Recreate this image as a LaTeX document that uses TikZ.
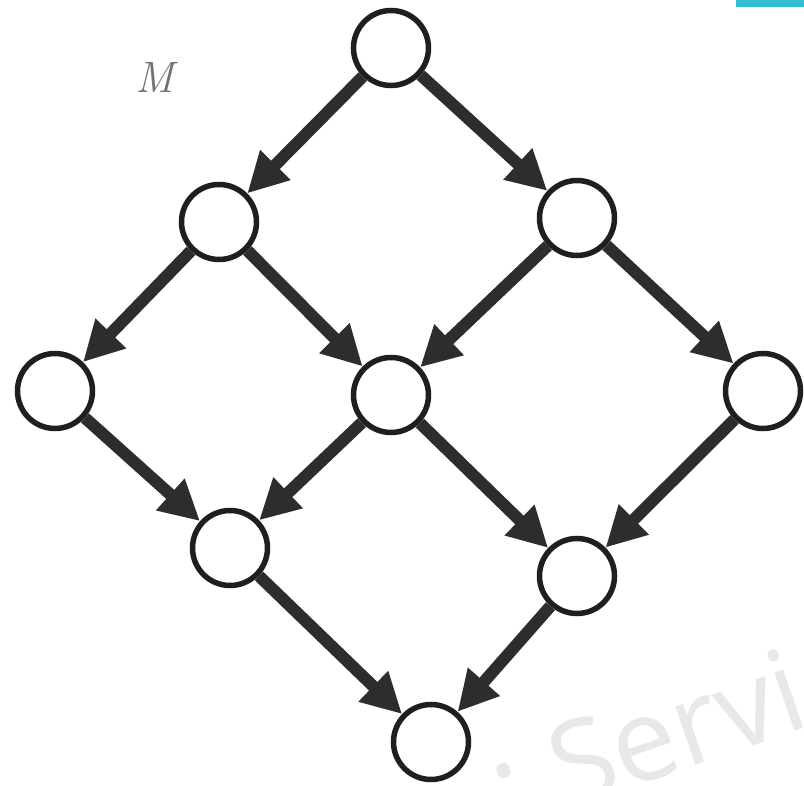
\documentclass[tikz,border=0pt]{standalone}
\usepackage{fontspec}
\newfontfamily\wmfont{Open Sans}
\usetikzlibrary{arrows.meta}
\definecolor{edgecol}{HTML}{2D2D2D}
\definecolor{teal}{HTML}{2FBFD0}
\definecolor{wmgray}{HTML}{E8E8E8}
\tikzset{
  vtx/.style={circle, draw=black!88, line width=5.5pt, fill=white, minimum size=75pt, inner sep=0pt},
  edge/.style={draw=edgecol, line width=12pt, -{Triangle[length=40pt,width=40pt]}},
  wm/.style={rotate=19, text=wmgray, font=\wmfont\fontsize{115}{115}\selectfont, inner sep=0pt},
}
\begin{document}
\begin{tikzpicture}[x=1pt,y=-1pt]
\useasboundingbox (0,0) rectangle (804,786);
\begin{scope}
\clip (0,0) rectangle (804,786);
\fill[teal] (736,0) rectangle (804,7);
\node[wm, anchor=base west] (wm) at (566,810) {Servic};
\node[wm, anchor=center] (wmdot) at (504,771) {.};
\end{scope}
\node[text=black!55, font=\itshape\fontsize{44}{44}\selectfont] (m) at (155,77) {M};
\node[vtx] (t) at (391,48) {};
\node[vtx] (l1) at (219,222) {};
\node[vtx] (r1) at (577,218) {};
\node[vtx] (ll) at (55,391) {};
\node[vtx] (c) at (391,395) {};
\node[vtx] (rr) at (763,391) {};
\node[vtx] (l2) at (230,548) {};
\node[vtx] (r2) at (577,576) {};
\node[vtx] (b) at (431,742) {};
\draw[edge] (t) -- (l1);
\draw[edge] (t) -- (r1);
\draw[edge] (l1) -- (ll);
\draw[edge] (l1) -- (c);
\draw[edge] (r1) -- (c);
\draw[edge] (r1) -- (rr);
\draw[edge] (ll) -- (l2);
\draw[edge] (c) -- (l2);
\draw[edge] (c) -- (r2);
\draw[edge] (rr) -- (r2);
\draw[edge] (l2) -- (b);
\draw[edge] (r2) -- (b);
\end{tikzpicture}
\end{document}
